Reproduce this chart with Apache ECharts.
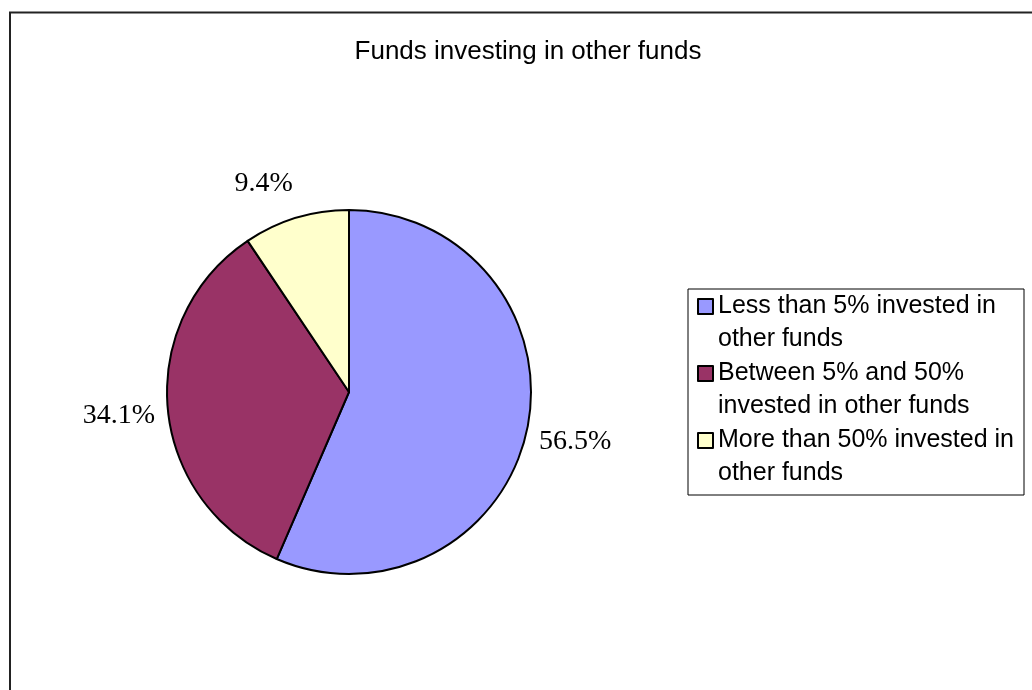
<!DOCTYPE html>
<html>
<head>
<meta charset="utf-8">
<script src="https://cdn.jsdelivr.net/npm/echarts@6/dist/echarts.min.js"></script>
<style>
  html, body { margin: 0; padding: 0; background: #fff; }
  #chart { width: 1032px; height: 690px; }
</style>
</head>
<body>
<div id="chart"></div>
<script>
// Share of funds by how much of their assets sit in other funds
const categories = [
  'Less than 5% invested in other funds',
  'Between 5% and 50% invested in other funds',
  'More than 50% invested in other funds'
];
const shares = [56.5, 34.1, 9.4];
const legendLines = [
  'Less than 5% invested in\nother funds',
  'Between 5% and 50%\ninvested in other funds',
  'More than 50% invested in\nother funds'
];
const sliceColors = ['#9999FF', '#993366', '#FFFFCC'];
const chartTitle = 'Funds investing in other funds';

const pieData = categories.map((name, i) => ({ name, value: shares[i] }));

// the small last slice gets its label eased away from the neighbouring slice
const labelData = pieData.map((d, i) => (i === pieData.length - 1
  ? Object.assign({}, d, { label: { offset: [-18, 13] } })
  : Object.assign({}, d, { label: { offset: [0, 3] } })));

const LINE_H = 33;
const ICON = 15;

const chart = echarts.init(document.getElementById('chart'), null, { renderer: 'canvas' });

chart.setOption({
  animation: false,
  backgroundColor: '#ffffff',
  color: sliceColors,
  title: {
    text: chartTitle,
    left: 528,
    textAlign: 'center',
    top: 39,
    padding: 0,
    textStyle: {
      fontFamily: 'Liberation Sans, Arial, sans-serif',
      fontSize: 26,
      fontWeight: 'normal',
      color: '#000'
    }
  },
  graphic: [{
    type: 'rect',
    silent: true,
    z: -1,
    shape: { x: 10, y: 12.5, width: 1060, height: 720 },
    style: { fill: 'none', stroke: '#222', lineWidth: 2 }
  }],
  legend: {
    orient: 'vertical',
    left: 688,
    top: 289,
    padding: [1, 10, 5, 9],
    itemGap: 1,
    itemWidth: ICON,
    itemHeight: ICON + LINE_H,
    // square swatch on the first text line; the trailing move-to stretches the
    // icon box down so the two-line label starts level with the swatch
    icon: 'path://M0,0H15V15H0Z M0,' + (ICON + LINE_H),
    borderColor: '#000',
    borderWidth: 1,
    backgroundColor: '#fff',
    data: categories,
    formatter: name => legendLines[categories.indexOf(name)],
    textStyle: {
      fontFamily: 'Liberation Sans, Arial, sans-serif',
      fontSize: 25,
      lineHeight: LINE_H,
      color: '#000'
    },
    selectedMode: false
  },
  series: [
    {
      type: 'pie',
      center: [349, 392],
      radius: 182,
      startAngle: 90,
      clockwise: true,
      data: pieData,
      label: { show: false },
      labelLine: { show: false },
      itemStyle: { borderColor: '#000', borderWidth: 2 },
      emphasis: { disabled: true }
    },
    {
      // value labels, set on an unfilled ring just outside the pie
      type: 'pie',
      center: [349, 392],
      radius: [210, 246],
      startAngle: 90,
      clockwise: true,
      silent: true,
      data: labelData,
      itemStyle: { color: 'rgba(0,0,0,0)', borderWidth: 0 },
      labelLine: { show: false },
      label: {
        show: true,
        position: 'inside',
        formatter: p => p.value.toFixed(1) + '%',
        fontFamily: 'Liberation Serif, Times New Roman, serif',
        fontSize: 28,
        color: '#000'
      },
      emphasis: { disabled: true }
    }
  ]
});
</script>
</body>
</html>
